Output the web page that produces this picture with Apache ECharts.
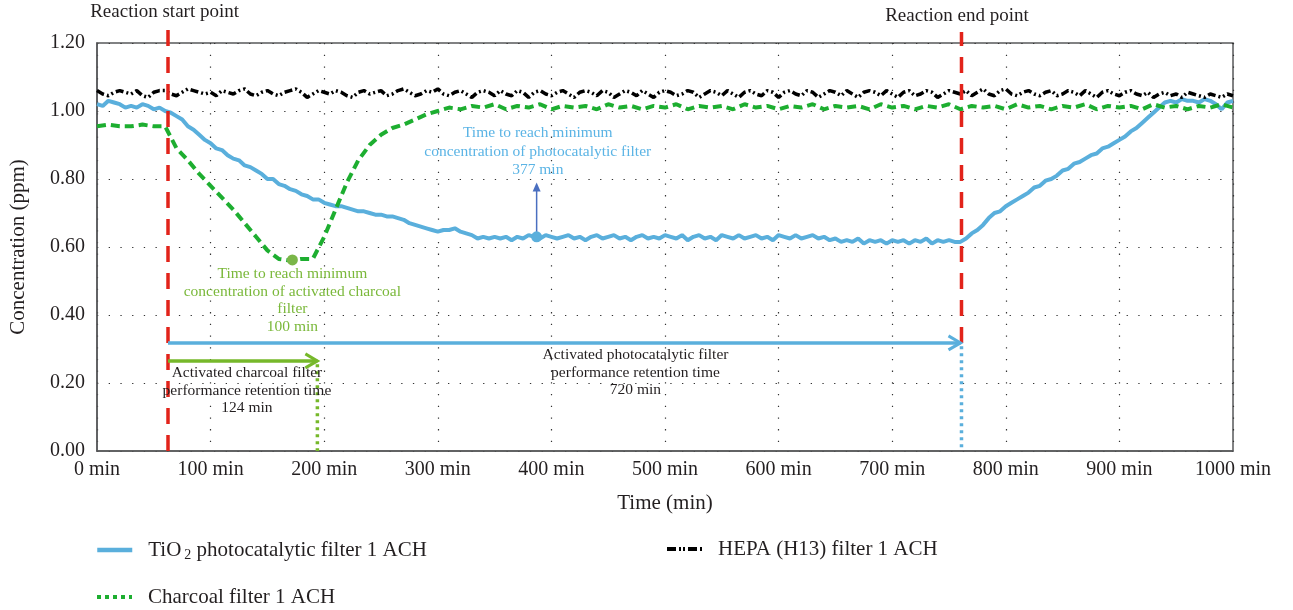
<!DOCTYPE html>
<html>
<head>
<meta charset="utf-8">
<script src="https://cdn.jsdelivr.net/npm/echarts@6/dist/echarts.min.js"></script>
<style>
html,body{margin:0;padding:0;background:#ffffff;}
#chart{width:1293px;height:610px;}
</style>
</head>
<body>
<div id="chart"></div>
<script>
// ---------------- DATA ----------------
// fine time grid (5 min) for the TiO2 and HEPA traces
const timeFine = [0,5,10,15,20,25,30,35,40,45,50,55,60,65,70,75,80,85,90,95,
  100,105,110,115,120,125,130,135,140,145,150,155,160,165,170,175,180,185,190,195,
  200,205,210,215,220,225,230,235,240,245,250,255,260,265,270,275,280,285,290,295,
  300,305,310,315,320,325,330,335,340,345,350,355,360,365,370,375,380,385,390,395,
  400,405,410,415,420,425,430,435,440,445,450,455,460,465,470,475,480,485,490,495,
  500,505,510,515,520,525,530,535,540,545,550,555,560,565,570,575,580,585,590,595,
  600,605,610,615,620,625,630,635,640,645,650,655,660,665,670,675,680,685,690,695,
  700,705,710,715,720,725,730,735,740,745,750,755,760,765,770,775,780,785,790,795,
  800,805,810,815,820,825,830,835,840,845,850,855,860,865,870,875,880,885,890,895,
  900,905,910,915,920,925,930,935,940,945,950,955,960,965,970,975,980,985,990,995,
  1000];
// coarse time grid (10 min) for the charcoal trace
const timeCoarse = [0,10,20,30,40,50,60,70,80,90,100,110,120,130,140,150,160,170,180,190,200,
  210,220,230,240,250,260,270,280,290,300,310,320,330,340,350,360,370,380,390,400,
  410,420,430,440,450,460,470,480,490,500,510,520,530,540,550,560,570,580,590,600,
  610,620,630,640,650,660,670,680,690,700,710,720,730,740,750,760,770,780,790,800,
  810,820,830,840,850,860,870,880,890,900,910,920,930,940,950,960,970,980,990,1000];

const tio2Values = [
  1.02,1.015,1.03,1.025,1.02,1.01,1.015,1.01,1.02,1.015,1.005,1.01,1.00,0.995,0.985,0.975,0.955,0.945,0.93,0.915,
  0.905,0.89,0.885,0.87,0.86,0.855,0.84,0.835,0.825,0.815,0.80,0.80,0.785,0.78,0.77,0.765,0.755,0.75,0.74,0.74,
  0.73,0.725,0.72,0.72,0.715,0.71,0.705,0.705,0.70,0.695,0.695,0.69,0.69,0.685,0.68,0.67,0.665,0.66,0.655,0.65,
  0.645,0.65,0.65,0.655,0.645,0.64,0.635,0.625,0.63,0.625,0.63,0.625,0.63,0.62,0.63,0.625,0.635,0.63,0.625,0.635,
  0.63,0.625,0.63,0.635,0.625,0.63,0.62,0.63,0.635,0.625,0.63,0.635,0.625,0.63,0.62,0.63,0.635,0.625,0.63,0.625,
  0.635,0.63,0.625,0.635,0.62,0.63,0.635,0.625,0.63,0.62,0.635,0.63,0.625,0.635,0.625,0.63,0.635,0.625,0.63,0.62,
  0.635,0.63,0.625,0.635,0.625,0.63,0.635,0.625,0.63,0.62,0.625,0.615,0.62,0.615,0.625,0.61,0.62,0.615,0.62,0.61,
  0.62,0.615,0.62,0.61,0.62,0.615,0.625,0.61,0.62,0.615,0.62,0.615,0.615,0.625,0.64,0.65,0.665,0.685,0.70,0.705,
  0.72,0.73,0.74,0.75,0.76,0.775,0.78,0.795,0.80,0.81,0.825,0.83,0.845,0.85,0.86,0.87,0.875,0.89,0.895,0.905,
  0.915,0.925,0.94,0.95,0.965,0.98,0.995,1.01,1.025,1.03,1.025,1.035,1.03,1.03,1.025,1.035,1.03,1.02,1.005,1.025,
  1.03];

const hepaValues = [
  1.06,1.05,1.045,1.055,1.06,1.055,1.05,1.06,1.045,1.04,1.055,1.06,1.06,1.05,1.045,1.055,1.065,1.06,1.055,1.05,
  1.055,1.045,1.06,1.055,1.05,1.06,1.065,1.05,1.045,1.055,1.06,1.05,1.045,1.055,1.06,1.065,1.055,1.04,1.05,1.06,
  1.055,1.05,1.06,1.055,1.045,1.04,1.055,1.06,1.05,1.055,1.06,1.045,1.05,1.06,1.065,1.055,1.045,1.05,1.06,1.055,
  1.065,1.05,1.045,1.055,1.06,1.05,1.04,1.055,1.06,1.055,1.045,1.06,1.05,1.045,1.06,1.055,1.04,1.055,1.06,1.05,
  1.045,1.055,1.06,1.05,1.04,1.055,1.06,1.055,1.045,1.06,1.055,1.04,1.05,1.06,1.055,1.045,1.06,1.05,1.04,1.055,
  1.06,1.055,1.045,1.05,1.06,1.055,1.04,1.05,1.06,1.055,1.045,1.06,1.05,1.04,1.055,1.06,1.05,1.045,1.06,1.055,
  1.04,1.055,1.06,1.05,1.045,1.06,1.055,1.04,1.05,1.06,1.055,1.045,1.06,1.05,1.04,1.055,1.06,1.055,1.045,1.06,
  1.05,1.04,1.055,1.06,1.045,1.05,1.06,1.055,1.04,1.05,1.06,1.055,1.05,1.06,1.045,1.055,1.065,1.05,1.045,1.06,
  1.065,1.05,1.045,1.055,1.06,1.05,1.045,1.055,1.06,1.045,1.05,1.06,1.055,1.045,1.06,1.05,1.04,1.055,1.06,1.05,
  1.045,1.055,1.06,1.05,1.045,1.055,1.04,1.05,1.055,1.045,1.05,1.04,1.055,1.05,1.045,1.04,1.05,1.045,1.04,1.05,
  1.045];

const charcoalValues = [0.955,0.96,0.955,0.955,0.96,0.955,0.955,0.89,0.855,0.815,0.78,
  0.745,0.71,0.67,0.63,0.59,0.565,0.56,0.565,0.565,0.63,
  0.71,0.79,0.855,0.90,0.93,0.95,0.96,0.975,0.99,1.00,
  1.01,1.005,1.015,1.01,1.02,1.005,1.015,1.01,1.02,1.005,
  1.015,1.01,1.015,1.005,1.02,1.01,1.015,1.005,1.015,1.01,
  1.02,1.005,1.015,1.01,1.015,1.005,1.02,1.01,1.015,1.005,
  1.015,1.01,1.02,1.005,1.015,1.01,1.015,1.005,1.02,1.01,
  1.015,1.005,1.015,1.01,1.02,1.005,1.015,1.01,1.015,1.005,
  1.02,1.01,1.015,1.005,1.015,1.01,1.02,1.005,1.015,1.01,
  1.015,1.005,1.02,1.01,1.015,1.005,1.015,1.01,1.02,1.01];

const seriesNames = ['TiO2 photocatalytic filter 1 ACH', 'Charcoal filter 1 ACH', 'HEPA (H13) filter 1 ACH'];

// annotation anchor values (in data units)
const reactionStartMin = 62.5;
const reactionEndMin = 761;
const charcoalRetentionEndMin = 194;
const tio2MinPoint = [387, 0.63];
const charcoalMinPoint = [172, 0.562];
const photoArrowLevel = 0.318;
const charcoalArrowLevel = 0.265;

const tio2MinLabel = ['Time to reach minimum', 'concentration of photocatalytic filter', '377 min'];
const charcoalMinLabel = ['Time to reach minimum', 'concentration of activated charcoal', 'filter', '100 min'];
const charcoalRetLabel = ['Activated charcoal filter', 'performance retention time', '124 min'];
const photoRetLabel = ['Activated photocatalytic filter', 'performance retention time', '720 min'];

// ---------------- STYLE ----------------
const SERIF = '"Liberation Serif","Times New Roman",serif';
const TXT = '#231F20';
const BLUE = '#5AAFDC';
const GREEN = '#1DAE30';
const RED = '#E2231A';
const LGREEN = '#76B82A';

function pairs(times, vals) { return times.map((t, i) => [t, vals[i]]); }

function renderAnnotations(params, api) {
  const c = (x, y) => api.coord([x, y]);
  const els = [];
  const seg = (p1, p2, stroke, w, dash) => els.push({
    type: 'line', shape: {x1: p1[0], y1: p1[1], x2: p2[0], y2: p2[1]},
    style: {stroke: stroke, lineWidth: w, lineDash: dash || null}
  });
  const block = (p, lines, fill, size, lh) => lines.forEach((t, i) => els.push({
    type: 'text', x: p[0], y: p[1] + i * lh,
    style: {text: t, fill: fill, fontSize: size, fontFamily: SERIF, align: 'center', verticalAlign: 'middle'}
  }));
  const chevron = (tip, stroke) => els.push({
    type: 'polyline', shape: {points: [[tip[0] - 12, tip[1] - 7], [tip[0], tip[1]], [tip[0] - 12, tip[1] + 7]]},
    style: {stroke: stroke, lineWidth: 3, fill: null}
  });

  // reaction start / end
  seg(c(reactionStartMin, 0), c(reactionStartMin, 1.247), RED, 3.5, [16, 11]);
  seg(c(reactionEndMin, photoArrowLevel), c(reactionEndMin, 1.232), RED, 3.5, [16, 11]);
  block(c(reactionStartMin - 3, 1.291), ['Reaction start point'], TXT, 19, 0);
  block(c(reactionEndMin - 4, 1.279), ['Reaction end point'], TXT, 19, 0);

  // photocatalytic retention arrow
  const pa = c(reactionStartMin, photoArrowLevel), pb = c(reactionEndMin, photoArrowLevel);
  seg(pa, [pb[0] - 1, pb[1]], BLUE, 3.5);
  chevron([pb[0] - 1, pb[1]], BLUE);
  seg(c(reactionEndMin, photoArrowLevel - 0.01), c(reactionEndMin, 0), BLUE, 3.5, [3, 4]);

  // charcoal retention arrow
  const ga = c(reactionStartMin, charcoalArrowLevel), gb = c(charcoalRetentionEndMin, charcoalArrowLevel);
  seg(ga, gb, LGREEN, 3.5);
  chevron(gb, LGREEN);
  seg(c(charcoalRetentionEndMin, charcoalArrowLevel - 0.01), c(charcoalRetentionEndMin, 0), LGREEN, 3.5, [3, 4]);

  // min markers
  const tm = c(tio2MinPoint[0], tio2MinPoint[1]);
  const tt = c(tio2MinPoint[0], 0.79);
  seg([tm[0], tm[1] - 4], [tt[0], tt[1] + 8], '#4A6FC0', 1.5);
  els.push({type: 'polygon', shape: {points: [[tt[0], tt[1]], [tt[0] - 4, tt[1] + 9], [tt[0] + 4, tt[1] + 9]]}, style: {fill: '#4A6FC0'}});
  els.push({type: 'circle', shape: {cx: tm[0], cy: tm[1], r: 5.5}, style: {fill: BLUE}});
  const cm = c(charcoalMinPoint[0], charcoalMinPoint[1]);
  els.push({type: 'circle', shape: {cx: cm[0], cy: cm[1], r: 5.5}, style: {fill: '#7AB648'}});

  // labels
  block(c(388, 0.935), tio2MinLabel, '#5BB4E5', 15.5, 18.5);
  block(c(172, 0.521), charcoalMinLabel, '#7AB83A', 15.5, 17.7);
  block(c(132, 0.229), charcoalRetLabel, TXT, 15.5, 17.5);
  block(c(474, 0.282), photoRetLabel, TXT, 15.5, 17.5);

  return {type: 'group', children: els};
}

const legendBase = {
  itemWidth: 35, itemHeight: 14, selectedMode: false, padding: 0,
  itemStyle: {opacity: 0},
  textStyle: {
    fontFamily: SERIF, fontSize: 21, color: TXT, padding: [0, 0, 0, 11], lineHeight: 24,
    rich: {sub: {fontFamily: SERIF, fontSize: 14, color: TXT, verticalAlign: 'bottom', lineHeight: 14, padding: [0, 0, 0, 3]}}
  },
  formatter: n => n.indexOf('TiO2') === 0 ? 'TiO{sub|2} photocatalytic filter 1 ACH' : n
};

const chart = echarts.init(document.getElementById('chart'), null, {renderer: 'canvas'});
chart.setOption({
  animation: false,
  backgroundColor: '#ffffff',
  grid: {left: 97, right: 60, top: 43, bottom: 159, show: true, borderColor: '#58595B', borderWidth: 1.5, containLabel: false},
  legend: [
    Object.assign({}, legendBase, {data: [seriesNames[0]], left: 95, top: 538, lineStyle: {width: 4.5}}),
    Object.assign({}, legendBase, {data: [seriesNames[1]], left: 95, top: 585, lineStyle: {type: [4, 4], width: 4}}),
    Object.assign({}, legendBase, {data: [seriesNames[2]], left: 665, top: 537, lineStyle: {width: 4, type: [9, 3, 2, 2, 2, 3]}})
  ],
  xAxis: {
    type: 'value', min: 0, max: 1000, interval: 100,
    name: 'Time (min)', nameLocation: 'middle', nameGap: 42,
    nameTextStyle: {fontFamily: SERIF, fontSize: 21, color: TXT},
    axisLine: {show: true, lineStyle: {color: '#58595B', width: 1.5}},
    axisTick: {show: false},
    axisLabel: {formatter: v => v + ' min', fontFamily: SERIF, fontSize: 20, color: TXT, margin: 9},
    splitLine: {show: true, lineStyle: {color: '#333', width: 1.2, type: [1.3, 10.4]}}
  },
  yAxis: {
    type: 'value', min: 0, max: 1.2, interval: 0.2,
    name: 'Concentration (ppm)', nameLocation: 'middle', nameGap: 68,
    nameTextStyle: {fontFamily: SERIF, fontSize: 21, color: TXT},
    axisLine: {show: true, lineStyle: {color: '#58595B', width: 1.5}},
    axisTick: {show: false},
    axisLabel: {formatter: v => v.toFixed(2), fontFamily: SERIF, fontSize: 20, color: TXT, margin: 12},
    splitLine: {show: true, lineStyle: {color: '#333', width: 1.2, type: [1.3, 10.4]}}
  },
  series: [
    {name: seriesNames[0], type: 'line', data: pairs(timeFine, tio2Values), showSymbol: false, symbol: 'none',
     lineStyle: {color: BLUE, width: 4}, itemStyle: {color: BLUE}, z: 2},
    {name: seriesNames[1], type: 'line', data: pairs(timeCoarse, charcoalValues), showSymbol: false, symbol: 'none',
     lineStyle: {color: GREEN, width: 4, type: [9, 5]}, itemStyle: {color: GREEN}, z: 3},
    {name: seriesNames[2], type: 'line', data: pairs(timeFine, hepaValues), showSymbol: false, symbol: 'none',
     lineStyle: {color: '#000', width: 3.5, type: [8, 3, 2, 3, 2, 3]}, itemStyle: {color: '#000'}, z: 4},
    {type: 'custom', renderItem: renderAnnotations, data: [[0, 0]], clip: false, silent: true, z: 5}
  ]
});
</script>
</body>
</html>
